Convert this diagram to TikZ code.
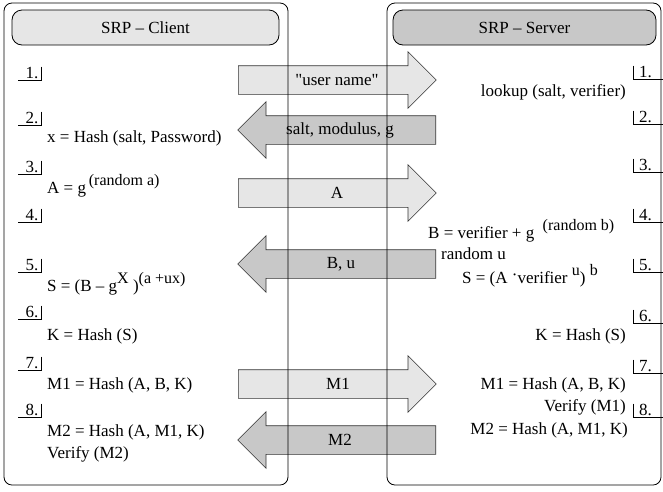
\documentclass[tikz,border=0pt]{standalone}
\usepackage{fontspec}
\setmainfont{Liberation Serif}
\newfontfamily\plainserif{Liberation Serif}
\usetikzlibrary{shapes.arrows}
\definecolor{lightgr}{HTML}{E6E6E6}
\definecolor{darkgr}{HTML}{C8C8C8}
\newcommand{\hoch}[1]{\raisebox{8pt}{\fontsize{16}{16}\selectfont #1}}
\begin{document}
\begin{tikzpicture}[x = 1pt, y = -1pt,
  every node/.style = {font = \fontsize{17}{20}\selectfont},
  outerbox/.style = {draw, rounded corners = 8pt, line width = 0.8pt},
  headbox/.style = {draw, rounded corners = 10pt, line width = 0.8pt},
  msg/.style = {single arrow, draw = black!80, line width = 0.6pt, single arrow head extend = 14pt,
    minimum height = 198pt, inner xsep = 0pt, inner ysep = 6pt, text height = 12pt, text depth = 4pt},
  toserver/.style = {msg, fill = lightgr, anchor = tail},
  toclient/.style = {msg, fill = darkgr, shape border rotate = 180, anchor = tail},
  tagl/.style = {anchor = south east, inner xsep = 2.5pt, inner ysep = 1pt, text height = 11pt, text depth = 0pt},
  tagr/.style = {anchor = south west, inner xsep = 6pt, inner ysep = 1pt, text height = 11pt, text depth = 0pt},
  txtl/.style = {anchor = west, inner sep = 0pt},
  txtr/.style = {anchor = east, inner sep = 0pt}]
\useasboundingbox (0, 0) rectangle (663, 491);

\node[toserver] at (238, 80) (m1)  {};
\node[toclient] at (436, 130) (m2) {};
\node[toserver] at (238, 193) (m3) {};
\node[toclient] at (436, 264) (m4) {};
\node[toserver] at (238, 384) (m5) {};
\node[toclient] at (436, 440) (m6) {};
\node at (337, 80) (t1)  {\plainserif "user name"};
\node at (340, 130) (t2) {salt, modulus, g};
\node at (337, 193) (t3) {A};
\node at (341, 264) (t4) {B, u};
\node at (338, 384) (t5) {M1};
\node at (340, 440) (t6) {M2};

\node[outerbox, minimum width = 284pt, minimum height = 482pt] at (146, 244) (client) {};
\node[outerbox, minimum width = 274pt, minimum height = 482pt] at (524, 244) (server) {};
\node[headbox, fill = lightgr, minimum width = 267pt, minimum height = 35pt] at (145.5, 27.5) (hc) {SRP -- Client};
\node[headbox, fill = darkgr, minimum width = 263pt, minimum height = 35pt] at (524.5, 27.5) (hs) {SRP -- Server};

\node[tagl] at (41, 80) (l1)  {1.}; \draw (l1.north east) -- (l1.south east) -- ++(-23, 0);
\node[tagl] at (41, 125) (l2) {2.}; \draw (l2.north east) -- (l2.south east) -- ++(-23, 0);
\node[tagl] at (41, 174) (l3) {3.}; \draw (l3.north east) -- (l3.south east) -- ++(-23, 0);
\node[tagl] at (41, 222) (l4) {4.}; \draw (l4.north east) -- (l4.south east) -- ++(-23, 0);
\node[tagl] at (41, 272) (l5) {5.}; \draw (l5.north east) -- (l5.south east) -- ++(-23, 0);
\node[tagl] at (41, 319) (l6) {6.}; \draw (l6.north east) -- (l6.south east) -- ++(-23, 0);
\node[tagl] at (41, 370) (l7) {7.}; \draw (l7.north east) -- (l7.south east) -- ++(-23, 0);
\node[tagl] at (41, 417) (l8) {8.}; \draw (l8.north east) -- (l8.south east) -- ++(-23, 0);

\node[tagr] at (633, 79) (r1)  {1.}; \draw (r1.north west) -- (r1.south west) -- ++(30, 0);
\node[tagr] at (633, 124) (r2) {2.}; \draw (r2.north west) -- (r2.south west) -- ++(30, 0);
\node[tagr] at (633, 172) (r3) {3.}; \draw (r3.north west) -- (r3.south west) -- ++(30, 0);
\node[tagr] at (633, 222) (r4) {4.}; \draw (r4.north west) -- (r4.south west) -- ++(30, 0);
\node[tagr] at (633, 272) (r5) {5.}; \draw (r5.north west) -- (r5.south west) -- ++(30, 0);
\node[tagr] at (633, 323) (r6) {6.}; \draw (r6.north west) -- (r6.south west) -- ++(30, 0);
\node[tagr] at (633, 373) (r7) {7.}; \draw (r7.north west) -- (r7.south west) -- ++(30, 0);
\node[tagr] at (633, 417) (r8) {8.}; \draw (r8.north west) -- (r8.south west) -- ++(30, 0);

\node[txtl] at (47, 138) (c2)  {x = Hash (salt, Password)};
\node[txtl] at (47, 186) (c3)  {A = g\,\hoch{(random a)}};
\node[txtl] at (47, 284) (c5)  {S = (B -- g\hoch{X} )\hoch{(a +ux)}};
\node[txtl] at (47, 336) (c6)  {K = Hash (S)};
\node[txtl] at (47, 385) (c7)  {M1 = Hash (A, B, K)};
\node[txtl] at (47, 432) (c8)  {M2 = Hash (A, M1, K)};
\node[txtl] at (47, 454) (c8b) {Verify (M2)};

\node[txtr] at (626, 92) (s1)   {lookup (salt, verifier)};
\node[txtl] at (428, 231) (s4)  {B = verifier + g\enspace\hoch{(random b)}};
\node[txtl] at (441, 254) (s4b) {random u};
\node[txtl] at (462, 276) (s5)  {S = (A \raisebox{3pt}{·}verifier \hoch{u}) \hoch{b}};
\node[txtr] at (626, 336) (s6)  {K = Hash (S)};
\node[txtr] at (626, 385) (s7)  {M1 = Hash (A, B, K)};
\node[txtr] at (626, 407) (s7b) {Verify (M1)};
\node[txtr] at (628, 430) (s8)  {M2 = Hash (A, M1, K)};

\end{tikzpicture}
\end{document}
